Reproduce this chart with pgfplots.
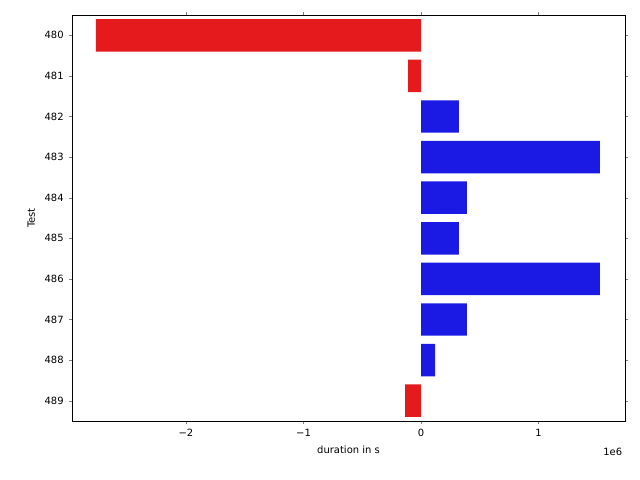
\documentclass[border=0pt]{standalone}
\usepackage{pgfplots}
\pgfplotsset{compat=1.18}
\usepackage{fontspec}
\setmainfont{DejaVu Sans}
\definecolor{cred}{RGB}{228,26,28}
\definecolor{cblue}{RGB}{26,26,228}
\begin{document}
\begin{tikzpicture}[x=0.72bp,y=0.72bp]
\path[use as bounding box] (-72,-59) rectangle (568,421);
\begin{axis}[at={(0,0)},anchor=south west,
 scale only axis, width=398.16bp, height=292.32bp,
 xmin=-2.97, xmax=1.736, ymin=-0.5, ymax=9.5, y dir=reverse,
 xtick={-2,-1,0,1}, xticklabels={−2,−1,0,1},
 ytick={0,...,9}, yticklabels={480,481,482,483,484,485,486,487,488,489},
 xlabel={duration in s}, ylabel={Test},
 tick label style={font=\fontsize{7.2}{8}\selectfont},
 label style={font=\fontsize{7.2}{8}\selectfont},
 /pgf/number format/assume math mode=true,
 tick align=outside, major tick length=2.5pt,
 xbar, bar width=0.8, bar shift=0pt]
\addplot[fill=cred, draw=none] coordinates {(-2.766,0) (-0.11,1) (-0.136,9)};
\addplot[fill=cblue, draw=none] coordinates {(0.323,2) (1.523,3) (0.39,4) (0.323,5) (1.523,6) (0.39,7) (0.12,8)};
\end{axis}
\node[anchor=north east,font=\fontsize{7.2}{8}\selectfont] at (625-72+2,-22) {1e6};
\end{tikzpicture}
\end{document}
